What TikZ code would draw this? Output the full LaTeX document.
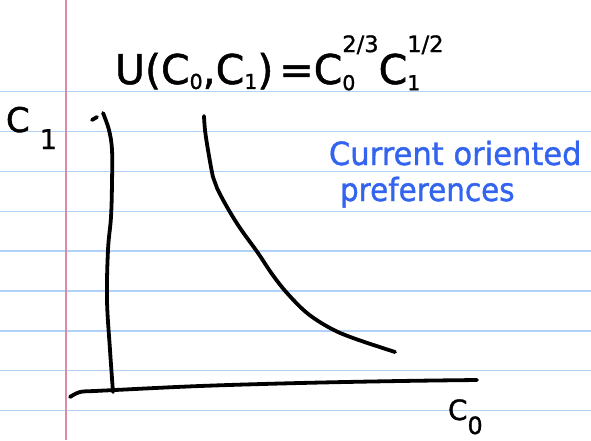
\documentclass[tikz,border=0pt]{standalone}
\usepackage{fontspec}
\usepackage{graphicx}
\setmainfont{DejaVu Sans}
\newfontfamily\penfont{DejaVu Sans}[FakeBold=1.2]
\definecolor{rulecol}{RGB}{176,210,246}
\definecolor{margincol}{RGB}{222,140,165}
\definecolor{pen}{RGB}{50,100,240}
\newcommand{\lo}[1]{\raisebox{-0.12em}{\scalebox{0.5}{#1}}}
\newcommand{\losup}[2]{\rlap{\raisebox{-0.15em}{\scalebox{0.5}{#1}}}\raisebox{0.78em}{\scalebox{0.55}{#2}}}
\begin{document}
\begin{tikzpicture}[x=1pt,y=-1pt,
  inkline/.style={line width=3.8pt, line cap=round, line join=round, draw=black},
  txt/.style={anchor=base west, inner sep=0pt, outer sep=0pt},
  note/.style={txt, text=pen, font=\penfont\fontsize{32}{36}\selectfont}]
\useasboundingbox (0,0) rectangle (591,440);
\fill[white] (0,0) rectangle (591,440);
\foreach \k in {0,...,8}
  \draw[rulecol, line width=1.3pt] (0,{91.7+39.86*\k}) -- (591,{91.7+39.86*\k});
\draw[margincol, line width=1.3pt] (66,0) -- (66,440);
% formula
\node[txt, font=\penfont\fontsize{41}{44}\selectfont] (formula) at (115,84)
  {U(C\lo{0},C\lo{1})\hspace{6pt}=C\losup{0}{2/3}C\losup{1}{1/2}};
% axis labels
\node[txt, font=\penfont\fontsize{34}{36}\selectfont] (c1) at (6,132)
  {C\hspace{10pt}\raisebox{-0.5em}{\scalebox{0.8}{1}}};
\node[txt, font=\penfont\fontsize{28}{30}\selectfont] (c0) at (448,420)
  {C\raisebox{-0.5em}{\scalebox{0.85}{0}}};
% note
\node[note] (note1) at (329,165) {\scalebox{0.955}[1]{Current oriented}};
\node[note] (note2) at (340,201) {\scalebox{0.92}[1]{preferences}};
% axes
\draw[inkline] (92,120) -- (97,117);
\draw[inkline] plot[smooth, tension=0.6] coordinates
  {(103,113) (109,130) (112,150) (112,183) (111,217) (108,250) (107,300) (110,350) (113,392)};
\draw[inkline] plot[smooth, tension=0.6] coordinates
  {(70,397) (80,392) (95,391) (115,390) (200,386) (300,383) (400,381) (477,380)};
% indifference curve
\draw[inkline] plot[smooth, tension=0.6] coordinates
  {(204,116) (205,130) (208,150) (213,177) (217,188) (227,207) (240,228) (258,253) (272,274) (287,293) (307,313) (330,328) (353,338) (395,352)};
\end{tikzpicture}
\end{document}
